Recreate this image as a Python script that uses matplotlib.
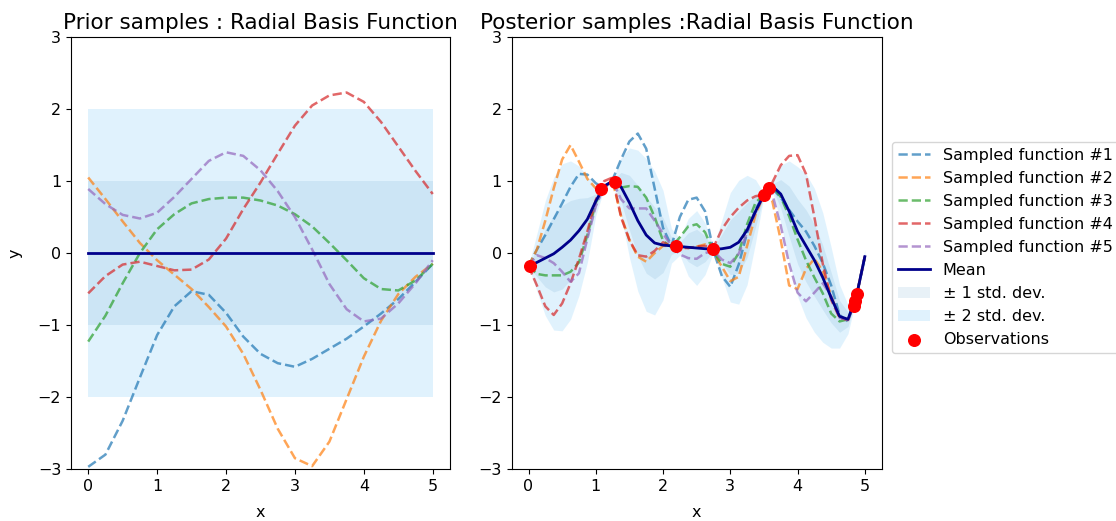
import numpy as np
import matplotlib
matplotlib.use("Agg")
from matplotlib import pyplot as plt

# prior: evaluated on a 0.25 grid
prior_x = np.linspace(0, 5, 21)
prior_mean = 0.0
prior_std = 1.0
prior_samples = [
    [-2.97, -2.80, -2.33, -1.73, -1.14, -0.74, -0.53, -0.58, -0.83, -1.16, -1.40,
     -1.53, -1.58, -1.47, -1.33, -1.19, -1.02, -0.84, -0.64, -0.40, -0.15],
    [1.05, 0.75, 0.44, 0.14, -0.10, -0.30, -0.50, -0.75, -1.02, -1.40, -1.90,
     -2.44, -2.85, -2.96, -2.62, -2.03, -1.44, -0.94, -0.57, -0.33, -0.15],
    [-1.23, -0.87, -0.42, 0.00, 0.33, 0.54, 0.69, 0.75, 0.77, 0.77, 0.73,
     0.66, 0.54, 0.37, 0.14, -0.10, -0.35, -0.50, -0.52, -0.38, -0.15],
    [-0.56, -0.32, -0.16, -0.12, -0.18, -0.24, -0.23, -0.09, 0.20, 0.61, 0.98,
     1.38, 1.77, 2.05, 2.19, 2.23, 2.10, 1.82, 1.48, 1.14, 0.82],
    [0.89, 0.68, 0.53, 0.48, 0.56, 0.78, 1.03, 1.28, 1.40, 1.35, 1.15,
     0.86, 0.50, 0.05, -0.43, -0.78, -0.95, -0.91, -0.70, -0.42, -0.10],
]

# posterior: evaluated on a 0.125 grid
post_x = np.linspace(0, 5, 41)
post_mean = [-0.18, -0.13, -0.07, -0.01, 0.08, 0.18, 0.31, 0.47, 0.72, 0.93,
             1.00, 0.92, 0.70, 0.45, 0.25, 0.14, 0.11, 0.10, 0.09, 0.08,
             0.07, 0.06, 0.05, 0.06, 0.08, 0.15, 0.32, 0.58, 0.81, 0.93,
             0.82, 0.58, 0.30, 0.10, -0.10, -0.34, -0.62, -0.88, -0.92, -0.60,
             -0.05]
post_std = [0.0, 0.20, 0.40, 0.53, 0.58, 0.55, 0.45, 0.30, 0.10, 0.02,
            0.01, 0.20, 0.38, 0.49, 0.53, 0.50, 0.38, 0.12, 0.06, 0.20,
            0.26, 0.18, 0.02, 0.20, 0.38, 0.43, 0.38, 0.22, 0.01, 0.03,
            0.20, 0.35, 0.45, 0.50, 0.50, 0.45, 0.35, 0.22, 0.10, 0.01,
            0.05]
post_samples = [
    [-0.18, 0.05, 0.25, 0.47, 0.69, 0.92, 1.10, 1.09, 0.97, 0.90,
     1.02, 1.30, 1.55, 1.66, 1.45, 0.90, 0.35, 0.10, 0.50, 0.74,
     0.77, 0.58, 0.03, -0.32, -0.47, -0.16, 0.28, 0.61, 0.81, 0.90,
     0.77, 0.60, 0.44, 0.30, 0.10, -0.14, -0.45, -0.86, -0.95, -0.60,
     -0.05],
    [-0.18, 0.05, 0.45, 0.90, 1.30, 1.50, 1.27, 1.03, 0.90, 0.92,
     1.00, 0.52, 0.18, -0.05, -0.12, 0.00, 0.10, 0.10, 0.10, 0.07,
     0.09, 0.12, 0.01, -0.19, -0.39, -0.33, 0.10, 0.53, 0.81, 0.72,
     0.18, -0.45, -0.50, -0.22, -0.08, -0.25, -0.60, -0.90, -0.93, -0.60,
     -0.05],
    [-0.18, -0.29, -0.31, -0.31, -0.31, -0.26, -0.13, 0.25, 0.70, 0.92,
     1.00, 0.91, 0.93, 0.92, 0.77, 0.50, 0.17, 0.08, 0.22, 0.37,
     0.40, 0.29, 0.02, -0.15, -0.19, 0.00, 0.40, 0.70, 0.81, 0.93,
     0.78, 0.51, 0.19, -0.10, -0.34, -0.56, -0.84, -0.95, -0.92, -0.60,
     -0.05],
    [-0.18, -0.45, -0.74, -0.86, -0.70, -0.42, -0.08, 0.30, 0.74, 1.00,
     1.05, 0.50, 0.18, -0.03, -0.05, 0.03, 0.15, 0.10, 0.07, 0.07,
     0.09, 0.10, 0.08, 0.33, 0.50, 0.63, 0.73, 0.79, 0.81, 0.98,
     1.22, 1.35, 1.36, 1.10, 0.50, -0.15, -0.65, -0.90, -0.93, -0.60,
     -0.05],
    [-0.18, -0.03, -0.07, -0.14, -0.26, -0.40, -0.28, 0.20, 0.65, 0.92,
     1.00, 0.75, 0.62, 0.62, 0.62, 0.45, 0.27, 0.10, -0.02, -0.07,
     -0.08, 0.00, 0.03, -0.09, -0.14, -0.01, 0.28, 0.56, 0.81, 0.82,
     0.38, -0.15, -0.55, -0.67, -0.55, -0.42, -0.60, -0.90, -0.93, -0.60,
     -0.05],
]
obs_x = [0.02, 1.08, 1.28, 2.19, 2.74, 3.50, 3.58, 4.84, 4.86, 4.88]
obs_y = [-0.18, 0.89, 0.99, 0.10, 0.05, 0.81, 0.91, -0.74, -0.66, -0.57]

plt.rc("font", size=11.5)
fig = plt.figure(figsize=(11.16, 5.21), dpi=100)
ax1 = fig.add_axes([0.0636, 0.0998, 0.3396, 0.829])
ax2 = fig.add_axes([0.4585, 0.0998, 0.3315, 0.829])

band1 = dict(color="C0", alpha=0.1, linewidth=0)
band2 = dict(color="lightskyblue", alpha=0.25, linewidth=0)

# prior
ax1.fill_between(prior_x, prior_mean - 2 * prior_std, prior_mean + 2 * prior_std, **band2)
ax1.fill_between(prior_x, prior_mean - prior_std, prior_mean + prior_std, **band1)
for i, s in enumerate(prior_samples):
    ax1.plot(prior_x, s, "--", color="C%d" % i, alpha=0.7, lw=1.8)
ax1.plot(prior_x, np.full_like(prior_x, prior_mean), color="darkblue", lw=2)
ax1.set_ylim(-3, 3)
ax1.set_title("Prior samples : Radial Basis Function", fontsize=15.5)
ax1.set_xlabel("x", labelpad=8)
ax1.set_ylabel("y", labelpad=11)

# posterior
mean = np.array(post_mean)
std = np.array(post_std)
h2 = ax2.fill_between(post_x, mean - 2 * std, mean + 2 * std, label="± 2 std. dev.", **band2)
h1 = ax2.fill_between(post_x, mean - std, mean + std, label="± 1 std. dev.", **band1)
handles = []
for i, s in enumerate(post_samples):
    line, = ax2.plot(post_x, s, "--", color="C%d" % i, alpha=0.7, lw=1.8,
                     label="Sampled function #%d" % (i + 1))
    handles.append(line)
hm, = ax2.plot(post_x, mean, color="darkblue", lw=2, label="Mean")
ho = ax2.scatter(obs_x, obs_y, s=70, color="red", zorder=10, label="Observations")
ax2.set_ylim(-3, 3)
ax2.set_title("Posterior samples :Radial Basis Function", fontsize=15.5)
ax2.set_xlabel("x", labelpad=8)

handles = handles + [hm, h1, h2, ho]
ax2.legend(handles, [h.get_label() for h in handles],
           loc="lower left", bbox_to_anchor=(1.027, 0.268), borderaxespad=0)

fig.savefig("out.png")
